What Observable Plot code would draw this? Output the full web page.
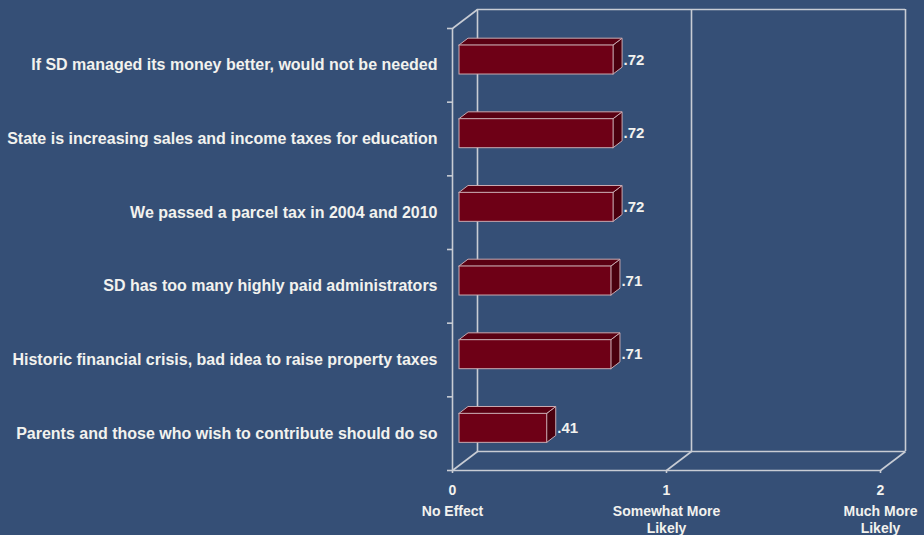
<!DOCTYPE html>
<html>
<head>
<meta charset="utf-8">
<script src="https://cdn.jsdelivr.net/npm/d3@7"></script>
<script src="https://cdn.jsdelivr.net/npm/@observablehq/plot@0.6"></script>
<style>
  html, body { margin: 0; padding: 0; background: #354f76; }
  #chart svg { display: block; }
</style>
</head>
<body>
<div id="chart"></div>
<script>
// ---- data ----
const categories = [
  "If SD managed its money better, would not be needed",
  "State is increasing sales and income taxes for education",
  "We passed a parcel tax in 2004 and 2010",
  "SD has too many highly paid administrators",
  "Historic financial crisis, bad idea to raise property taxes",
  "Parents and those who wish to contribute should do so"
];
const values = [0.72, 0.72, 0.72, 0.71, 0.71, 0.41];
const valueLabels = [".72", ".72", ".72", ".71", ".71", ".41"];
const xTicks = [0, 1, 2];
const xTickLabels = ["No Effect", "Somewhat More\nLikely", "Much More\nLikely"];

// ---- layout / style ----
const W = 924, H = 535;
const mL = 452, mR = 44, mT = 28, mB = 65;
const bg = "#354f76", grid = "#c8ccd4", txt = "#f2f2ee";
const pxX = (W - mL - mR) / 2, pxY = (H - mT - mB) / categories.length;
const DX = 25 / pxX, DY = 19 / pxY;       // full depth offset in data units
const d0 = 0.28, d1 = 0.64;               // bar depth (front, back)
const half = 14.5 / pxY;                  // half bar thickness

const rows = categories.map((c, i) => ({c, v: values[i], lab: valueLabels[i], m: i + 0.5}));
const topFace = rows.flatMap(r => [d0, d1].map(d => ({c: r.c, y: r.m - half - d * DY, x1: d * DX, x2: r.v + d * DX})));
const sideFace = rows.flatMap(r => [d0, d1].map(d => ({c: r.c, x: r.v + d * DX, y1: r.m - half - d * DY, y2: r.m + half - d * DY})));
const n = categories.length;
const sw = 1.6;

const chart = Plot.plot({
  width: W, height: H,
  marginLeft: mL, marginRight: mR, marginTop: mT, marginBottom: mB,
  x: {domain: [0, 2], axis: null},
  y: {domain: [n, 0], axis: null},
  style: {background: bg, color: txt, fontFamily: "'Liberation Sans', Arial, sans-serif", fontWeight: "bold", overflow: "visible"},
  marks: [
    // back wall
    Plot.ruleX(xTicks, {x: d => d + DX, y1: -DY, y2: n - DY, stroke: grid, strokeWidth: sw}),
    Plot.ruleY([0, n], {y: d => d - DY, x1: DX, x2: 2 + DX, stroke: grid, strokeWidth: sw}),
    // depth diagonals
    Plot.link([[0, 0], [0, n], [1, n], [2, n]], {x1: d => d[0], y1: d => d[1], x2: d => d[0] + DX, y2: d => d[1] - DY, stroke: grid, strokeWidth: sw}),
    // front frame
    Plot.ruleX([0], {y1: 0, y2: n, stroke: grid, strokeWidth: sw}),
    Plot.ruleY([n], {x1: 0, x2: 2, stroke: grid, strokeWidth: sw}),
    // axes ticks
    Plot.axisY(d3.range(0, n + 1), {tickSize: 5, tickFormat: () => "", stroke: grid, strokeWidth: sw, label: null}),
    Plot.axisX(xTicks, {tickSize: 3, tickPadding: 12, tickFormat: d => String(d), stroke: grid, strokeWidth: sw, fill: txt, fontSize: 14, fontWeight: "bold", label: null}),
    Plot.text(xTicks, {x: d => d, frameAnchor: "bottom", dy: 34, lineAnchor: "top", lineHeight: 1.2, text: (d, i) => xTickLabels[i], fill: txt, fontSize: 14, fontWeight: "bold"}),
    // category labels
    Plot.axisY(rows.map(r => r.m), {tickSize: 0, tickPadding: 15, tickFormat: d => categories[Math.floor(d)], fill: txt, fontSize: 16, fontWeight: "bold", label: null}),
    // bars
    Plot.areaY(sideFace, {x: "x", y1: "y1", y2: "y2", z: "c", fill: "#4a000e", stroke: "#c9a9b0", strokeWidth: 1, curve: "linear"}),
    Plot.areaX(topFace, {y: "y", x1: "x1", x2: "x2", z: "c", fill: "#5a0012", stroke: "#c9a9b0", strokeWidth: 1, curve: "linear"}),
    Plot.rect(rows, {x1: d0 * DX, x2: d => d.v + d0 * DX, y1: d => d.m - half - d0 * DY, y2: d => d.m + half - d0 * DY, fill: "#6e0016", stroke: "#c9a9b0", strokeWidth: 1}),
    // value labels
    Plot.text(rows, {x: d => d.v + d1 * DX, y: d => d.m - d0 * DY, text: "lab", textAnchor: "start", dx: 1, fill: txt, fontSize: 15, fontWeight: "bold"})
  ]
});
document.getElementById("chart").append(chart);
</script>
</body>
</html>
